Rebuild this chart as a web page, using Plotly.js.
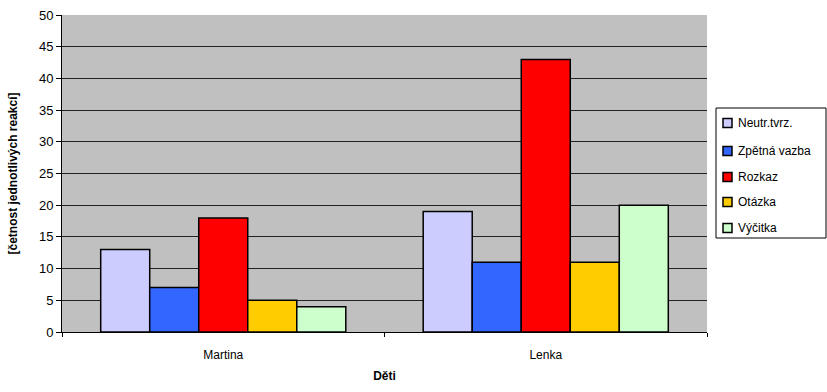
<!DOCTYPE html>
<html><head><meta charset="utf-8">
<script src="https://cdn.plot.ly/plotly-3.0.1.min.js"></script>
<style>body{margin:0;padding:0;background:#fff}#chart{width:827px;height:392px}</style>
</head><body><div id="chart"></div>
<script>
const categories = ["Martina", "Lenka"];
const seriesNames = ["Neutr.tvrz.", "Zpětná vazba", "Rozkaz", "Otázka", "Výčitka"];
const neutr = [13, 19];
const zpetna = [7, 11];
const rozkaz = [18, 43];
const otazka = [5, 11];
const vycitka = [4, 20];
const colors = ["#CCCCFF", "#3366FF", "#FF0000", "#FFCC00", "#CCFFCC"];
const allValues = [neutr, zpetna, rozkaz, otazka, vycitka];

const L = 62, R = 707, T = 15, B = 332;
const px = x => (x - L) / (R - L);
const py = y => (B - y) / (B - T);

const traces = allValues.map((v, i) => ({
  type: "bar", x: categories, y: v, name: seriesNames[i], showlegend: false,
  marker: {color: colors[i], line: {color: "#000", width: 1.5}}
}));

const shapes = [{
  type: "rect", xref: "paper", yref: "paper",
  x0: px(716), x1: px(826), y0: py(108), y1: py(238),
  line: {color: "#000", width: 1}, fillcolor: "#fff"
}];
const annotations = [];
const rowY = [123, 151, 177, 202, 228];
seriesNames.forEach((n, i) => {
  shapes.push({
    type: "rect", xref: "paper", yref: "paper",
    x0: px(723), x1: px(732), y0: py(rowY[i] - 4.5), y1: py(rowY[i] + 4.5),
    line: {color: "#000", width: 1.5}, fillcolor: colors[i]
  });
  annotations.push({
    xref: "paper", yref: "paper", x: px(736), y: py(rowY[i]),
    xanchor: "left", yanchor: "middle", text: n, showarrow: false,
    font: {size: 12, color: "#000"}
  });
});

const layout = {
  width: 827, height: 392,
  margin: {l: L, r: 827 - R, t: T, b: 392 - B, autoexpand: false},
  paper_bgcolor: "#fff", plot_bgcolor: "#C0C0C0",
  font: {family: "Liberation Sans, Arial, sans-serif", size: 12, color: "#000"},
  barmode: "group", bargap: 0.24, bargroupgap: 0,
  xaxis: {
    type: "category", tickson: "boundaries", ticks: "outside", ticklen: 4, tickcolor: "#000",
    showline: true, linecolor: "#000", linewidth: 1, ticklabelstandoff: 12,
    title: {text: "<b>Děti</b>", font: {size: 12}, standoff: 10}
  },
  yaxis: {
    range: [0, 50], dtick: 5, ticks: "outside", ticklen: 5, tickcolor: "#000",
    showline: true, linecolor: "#000", linewidth: 1,
    gridcolor: "#222", gridwidth: 1, zeroline: false,
    tickfont: {size: 13},
    title: {text: "<b>[četnost jednotlivých reakcí]</b>", font: {size: 12}, standoff: 18}
  },
  shapes, annotations,
  showlegend: false
};
Plotly.newPlot("chart", traces, layout, {displayModeBar: false, staticPlot: true});
</script></body></html>
